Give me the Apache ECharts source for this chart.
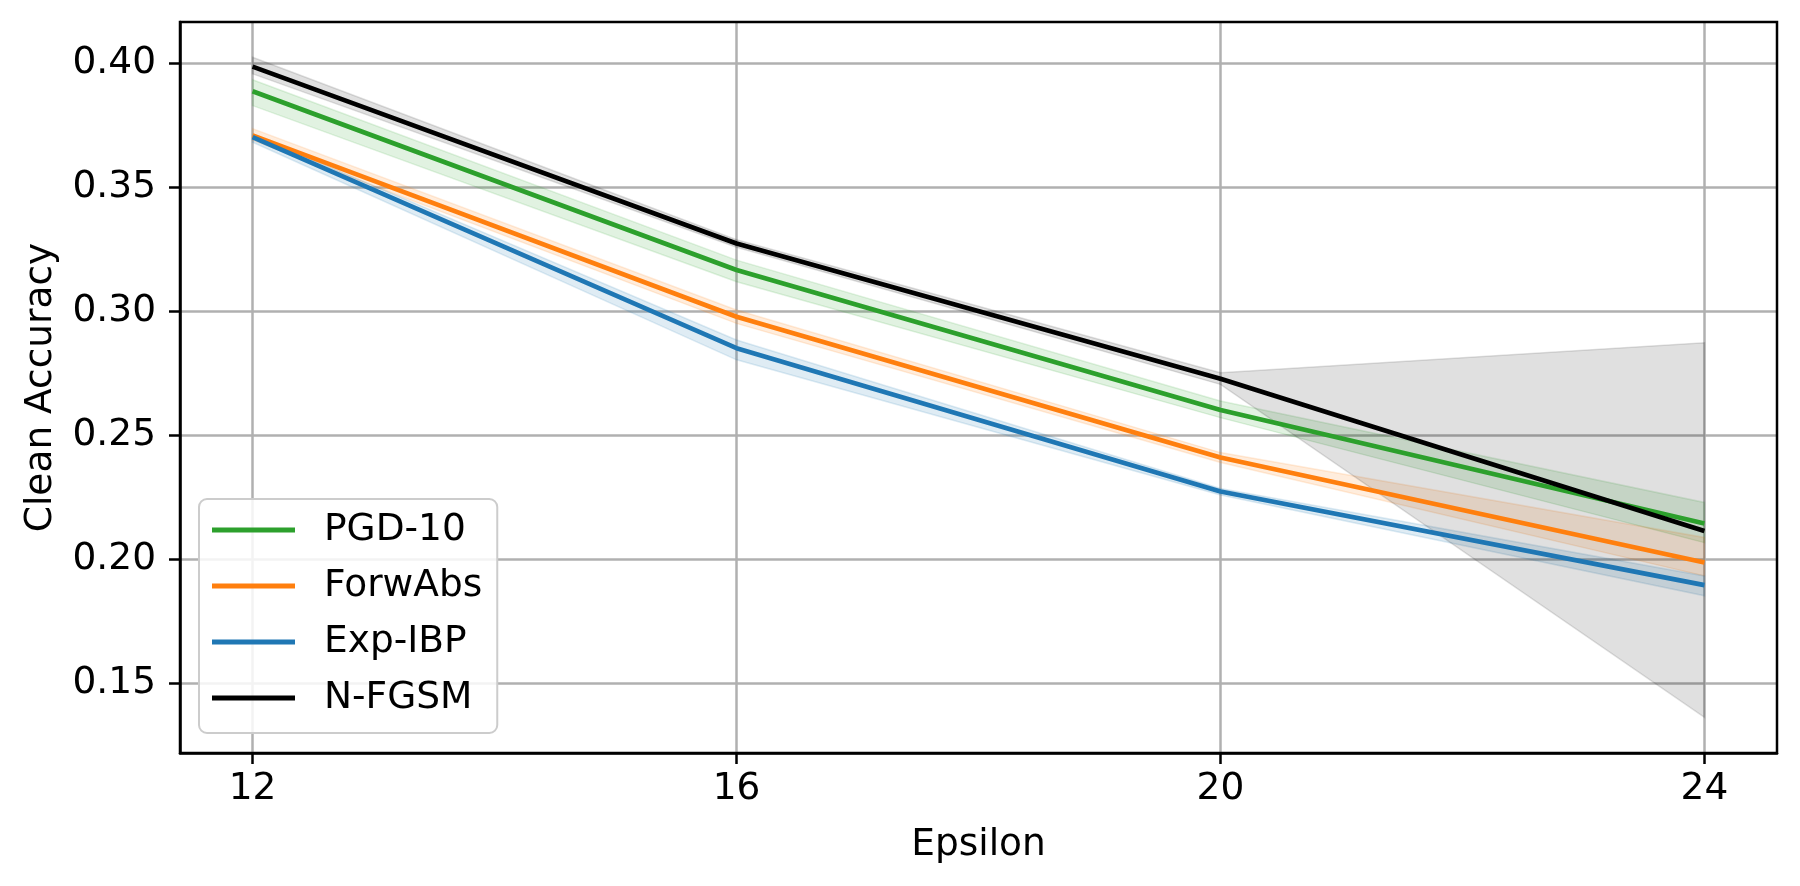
<!DOCTYPE html>
<html>
<head>
<meta charset="utf-8">
<script src="https://cdn.jsdelivr.net/npm/echarts@6/dist/echarts.min.js"></script>
<style>
html,body{margin:0;padding:0;background:#fff;}
#chart{width:1800px;height:886px;}
</style>
</head>
<body>
<div id="chart"></div>
<script>
const epsilons = [12, 16, 20, 24];
const xTicks = [12, 16, 20, 24];
const yTicks = [0.15, 0.20, 0.25, 0.30, 0.35, 0.40];

const pgdMean = [0.3886, 0.3165, 0.2601, 0.2143];
const pgdLow  = [0.3828, 0.3118, 0.2570, 0.2066];
const pgdHigh = [0.3932, 0.3205, 0.2637, 0.2228];

const forwMean = [0.3708, 0.2977, 0.2409, 0.1986];
const forwLow  = [0.3688, 0.2950, 0.2389, 0.1932];
const forwHigh = [0.3735, 0.3004, 0.2429, 0.2087];

const expMean = [0.3701, 0.2850, 0.2272, 0.1895];
const expLow  = [0.3680, 0.2803, 0.2258, 0.1852];
const expHigh = [0.3712, 0.2883, 0.2284, 0.1932];

const nfgsmMean = [0.3985, 0.3272, 0.2727, 0.2113];
const nfgsmLow  = [0.3956, 0.3257, 0.2704, 0.1362];
const nfgsmHigh = [0.4023, 0.3287, 0.2751, 0.2872];

const FONT = 'DejaVu Sans';
const FS = 37.5;

function band(name, lo, hi, fill) {
  return {
    type: 'custom',
    name: name + ' band',
    silent: true,
    clip: true,
    encode: {x: 0, y: [1, 2]},
    data: epsilons.map((x, i) => [x, lo[i], hi[i]]),
    renderItem: function (params, api) {
      if (params.dataIndex !== 0) return null;
      const top = epsilons.map((x, i) => api.coord([x, hi[i]]));
      const bot = epsilons.map((x, i) => api.coord([x, lo[i]])).reverse();
      return {
        type: 'polygon',
        shape: {points: top.concat(bot)},
        style: {fill: fill, stroke: fill, lineWidth: 1.5}
      };
    }
  };
}

function line(name, values, color) {
  return {
    type: 'line',
    name: name,
    data: epsilons.map((x, i) => [x, values[i]]),
    showSymbol: false,
    symbol: 'none',
    lineStyle: {color: color, width: 4.7},
    itemStyle: {color: color},
    emphasis: {disabled: true},
    z: 3
  };
}

const chart = echarts.init(document.getElementById('chart'), null, {renderer: 'canvas'});
chart.setOption({
  animation: false,
  backgroundColor: '#ffffff',
  grid: {left: 180, right: 23, top: 22, bottom: 133, show: false},
  xAxis: {
    type: 'value',
    min: 11.4, max: 24.6,
    name: 'Epsilon',
    nameLocation: 'middle',
    nameGap: 73,
    nameTextStyle: {fontFamily: FONT, fontSize: FS, color: '#000'},
    axisLine: {show: true, onZero: false, lineStyle: {color: '#000', width: 2.5}},
    axisTick: {show: true, length: 11, lineStyle: {color: '#000', width: 2.5}, customValues: xTicks},
    axisLabel: {fontFamily: FONT, fontSize: FS, color: '#000', margin: 17, customValues: xTicks},
    splitLine: {show: true, lineStyle: {color: '#b0b0b0', width: 2.5}}
  },
  yAxis: {
    type: 'value',
    min: 0.1218, max: 0.4165,
    name: 'Clean Accuracy',
    nameLocation: 'middle',
    nameGap: 120,
    nameTextStyle: {fontFamily: FONT, fontSize: FS, color: '#000'},
    axisLine: {show: true, onZero: false, lineStyle: {color: '#000', width: 2.5}},
    axisTick: {show: true, length: 11, lineStyle: {color: '#000', width: 2.5}, customValues: yTicks},
    axisLabel: {fontFamily: FONT, fontSize: FS, color: '#000', margin: 24, customValues: yTicks,
      formatter: v => v.toFixed(2)},
    splitLine: {show: true, lineStyle: {color: '#b0b0b0', width: 2.5}}
  },
  graphic: [{
    type: 'rect', silent: true, z: 100,
    shape: {x: 180, y: 22, width: 1597, height: 731},
    style: {fill: 'none', stroke: '#000', lineWidth: 2.5}
  }],
  legend: {
    data: ['PGD-10', 'ForwAbs', 'Exp-IBP', 'N-FGSM'],
    orient: 'vertical',
    left: 199, top: 499,
    icon: 'rect',
    itemWidth: 83, itemHeight: 5,
    itemGap: 12,
    padding: [9, 15, 13, 13],
    backgroundColor: 'rgba(255,255,255,0.85)',
    borderColor: '#cccccc', borderWidth: 2, borderRadius: 8,
    textStyle: {fontFamily: FONT, fontSize: FS, color: '#000', lineHeight: 44, padding: [0, 0, 0, 24]},
    selectedMode: false,
    z: 50
  },
  series: [
    band('PGD-10', pgdLow, pgdHigh, 'rgba(44,160,44,0.14)'),
    band('ForwAbs', forwLow, forwHigh, 'rgba(255,127,14,0.14)'),
    band('Exp-IBP', expLow, expHigh, 'rgba(31,119,180,0.14)'),
    band('N-FGSM', nfgsmLow, nfgsmHigh, 'rgba(0,0,0,0.12)'),
    line('PGD-10', pgdMean, '#2ca02c'),
    line('ForwAbs', forwMean, '#ff7f0e'),
    line('Exp-IBP', expMean, '#1f77b4'),
    line('N-FGSM', nfgsmMean, '#000000')
  ]
});
</script>
</body>
</html>
